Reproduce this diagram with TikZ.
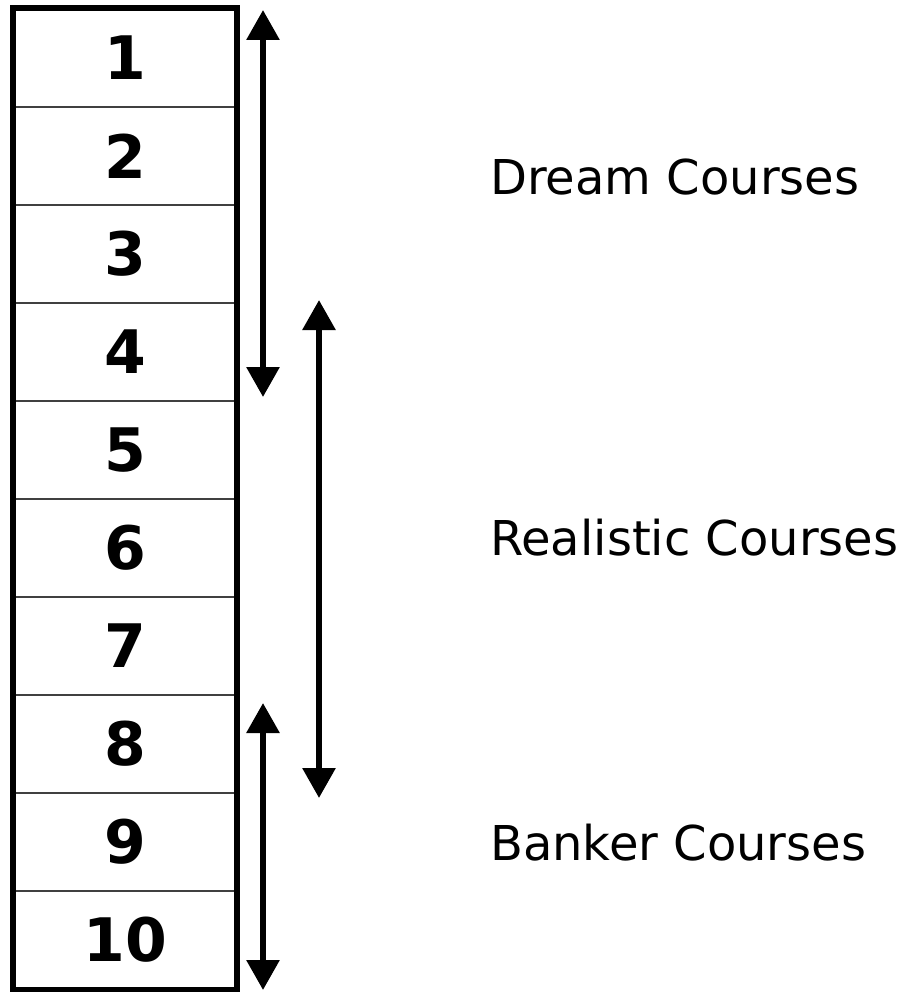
\documentclass[tikz,border=0pt]{standalone}
\usepackage{fontspec}
\setmainfont{DejaVu Sans}
\usetikzlibrary{arrows.meta}
\begin{document}
\begin{tikzpicture}[x=1pt,y=-1pt,
  cell/.style={draw=black!75,line width=1.6pt,minimum width=222pt,minimum height=98pt,
    inner sep=0pt,font=\fontsize{60}{60}\selectfont\bfseries},
  span/.style={line width=6pt,{Triangle[width=32pt,length=30pt]}-{Triangle[width=32pt,length=30pt]}},
  tag/.style={anchor=west,inner sep=0pt,font=\fontsize{48}{48}\selectfont}]
  \useasboundingbox (0,0) rectangle (903,992);
  % the ten rows
  \foreach \i in {1,...,10}
    \node[cell] (c\i) at (125,{9+98*(\i-0.5)}) {\i};
  \draw[line width=6pt] (c1.north west) rectangle (c10.south east);
  % spans
  \coordinate (dtop) at (263,10);
  \coordinate (dbot) at (263,397);
  \coordinate (rtop) at (319,300);
  \coordinate (rbot) at (319,798);
  \coordinate (btop) at (263,703);
  \coordinate (bbot) at (263,990);
  \draw[span] (dtop) -- (dbot);
  \draw[span] (rtop) -- (rbot);
  \draw[span] (btop) -- (bbot);
  % labels
  \node[tag] (dream) at (490,177) {Dream Courses};
  \node[tag] (real) at (490,538) {Realistic Courses};
  \node[tag] (bank) at (490,843) {Banker Courses};
\end{tikzpicture}
\end{document}
